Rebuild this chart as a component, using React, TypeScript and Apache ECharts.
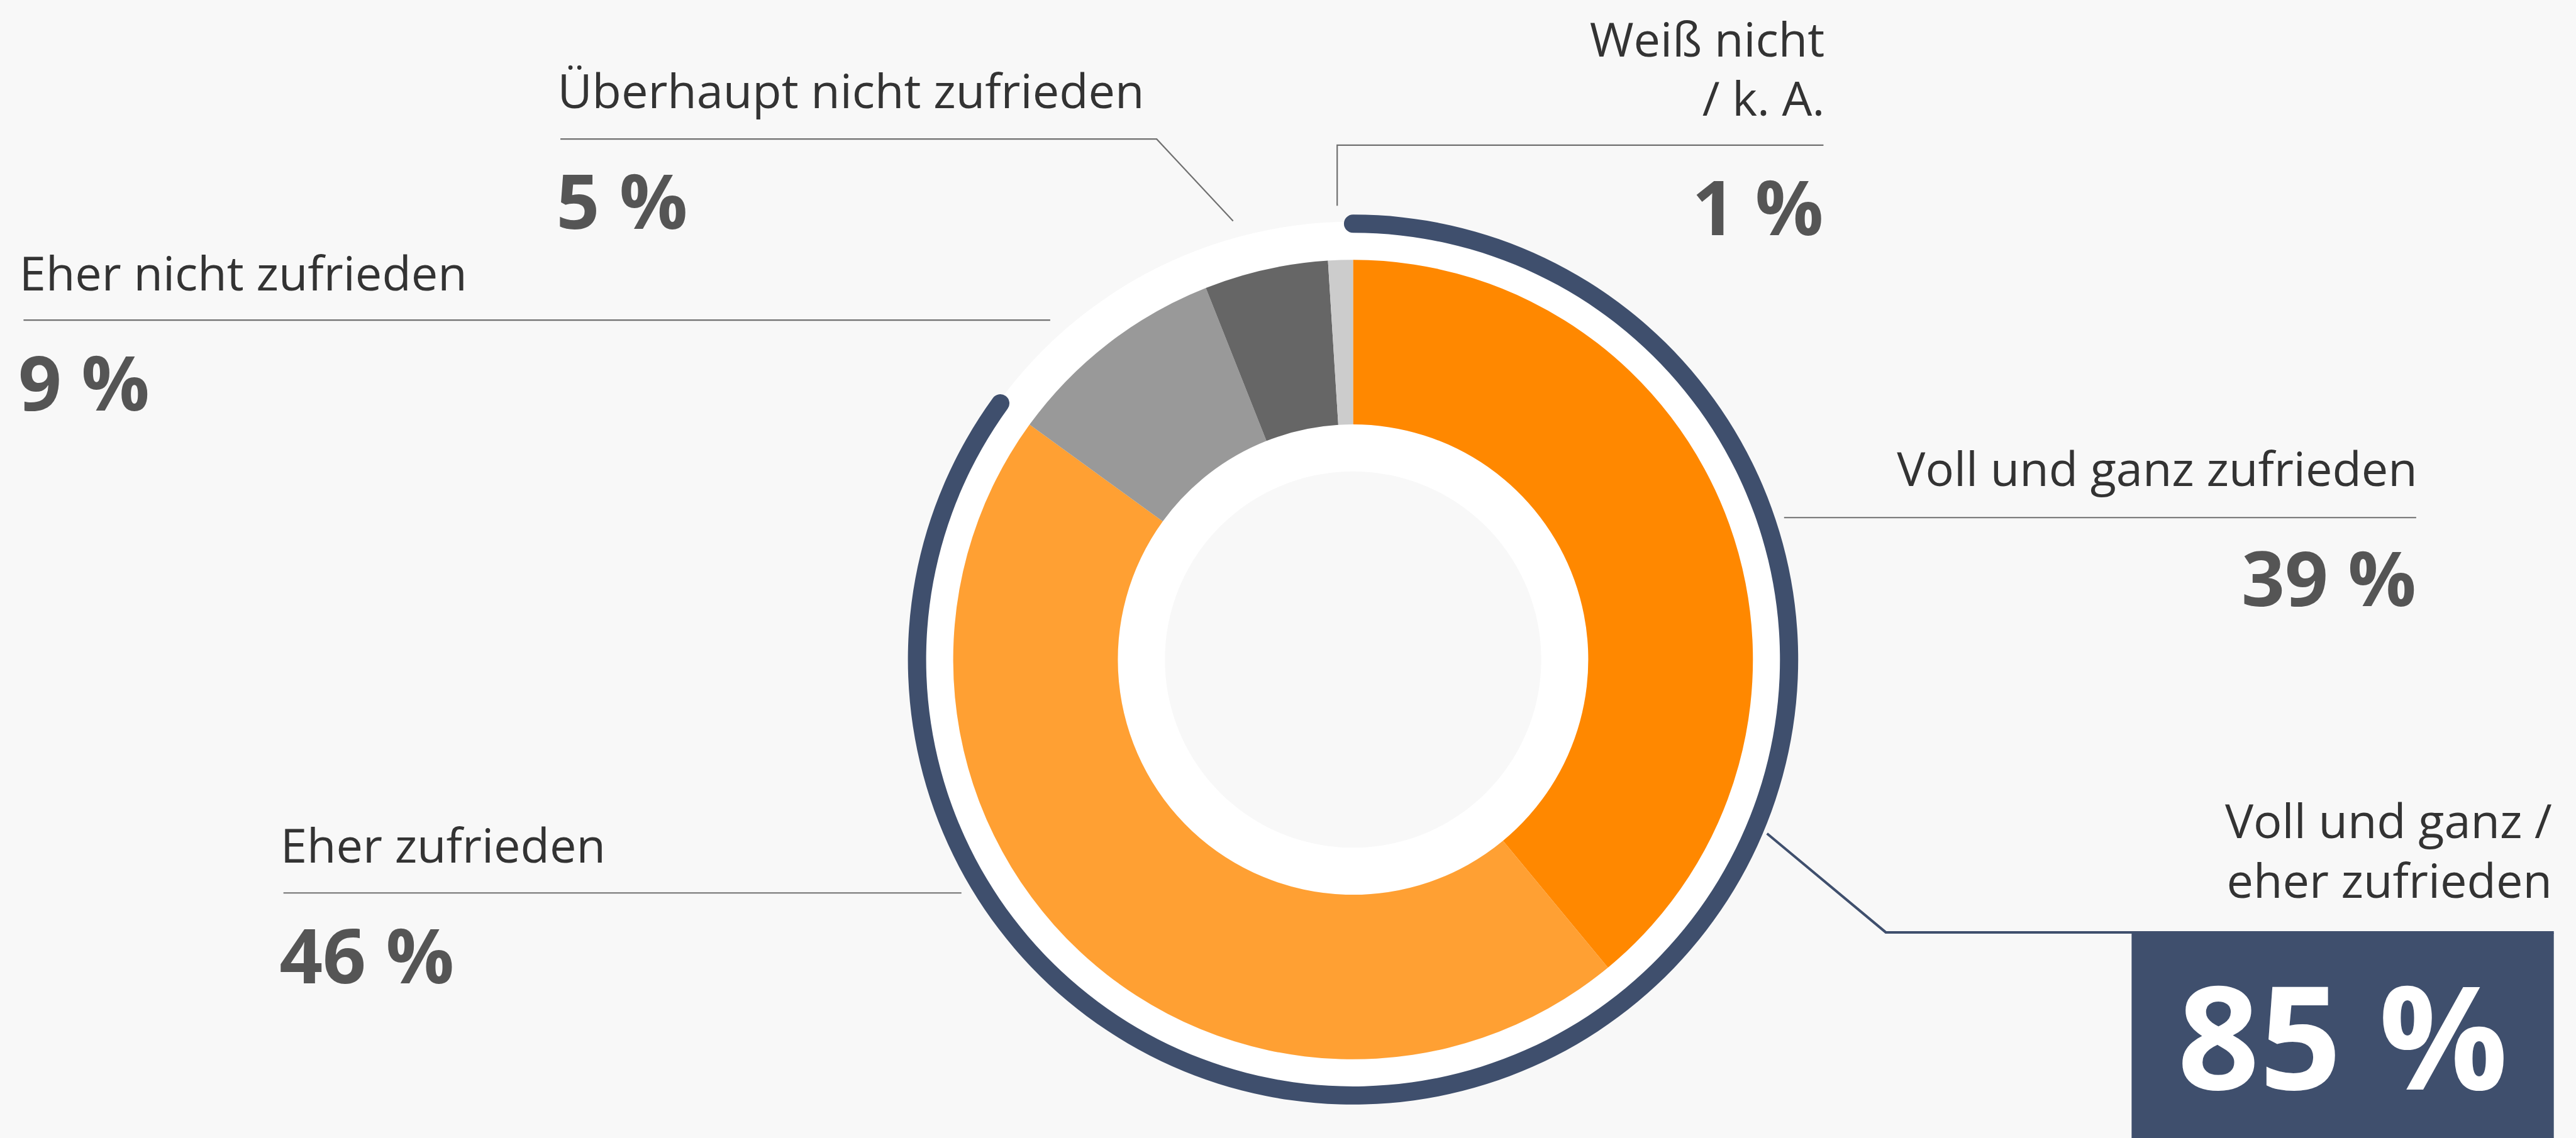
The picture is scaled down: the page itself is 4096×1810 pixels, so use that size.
import React, { useEffect, useRef } from 'react';
import * as echarts from 'echarts';

// ---------- data ----------
const categories = [
  'Voll und ganz zufrieden',
  'Eher zufrieden',
  'Eher nicht zufrieden',
  'Überhaupt nicht zufrieden',
  'Weiß nicht\n/ k. A.',
];
const values = [39, 46, 9, 5, 1];
const summaryLabel = 'Voll und ganz /\neher zufrieden';
const summaryValue = 85;

// ---------- styles / layout ----------
const W = 4096;
const H = 1810;
const S = 0.935;
const BG = '#f8f8f8';
const NAVY = '#3f4f6d';
const LINE_GRAY = '#707070';
const LABEL_COLOR = '#333333';
const PCT_COLOR = '#555555';
const sliceColors = ['#ff8800', '#ffa033', '#999999', '#666666', '#cccccc'];
const FONT = '"Open Sans", "Noto Sans", sans-serif';

const CX = 2301 * S;
const CY = 1122 * S;

const LABEL_FS = 81 * S;
const PCT_FS = 129 * S;
const BIG_FS = 244 * S;
const LABEL_LH = 101 * S;
const CENTRAL = 0.388;

type Lay = {
  align: 'left' | 'right';
  x: number;
  base: number;
  pctBase: number;
  line: number[][];
};

// reference-pixel positions (scaled by S at use)
const layout: Lay[] = [
  { align: 'right', x: 4111, base: 827, pctBase: 1031, line: [[3034, 880.5], [4109, 880.5]] },
  { align: 'left', x: 477, base: 1467, pctBase: 1673, line: [[482, 1519], [1635, 1519]] },
  { align: 'left', x: 33, base: 494, pctBase: 698, line: [[40, 544.5], [1786, 544.5]] },
  { align: 'left', x: 948, base: 184, pctBase: 389, line: [[953, 236.5], [1967, 236.5], [2097, 376]] },
  { align: 'right', x: 3103, base: 96, pctBase: 400, line: [[3101, 247], [2274, 247], [2274, 350]] },
];

function textTop(baseRef: number, fs: number, lh: number) {
  return baseRef * S - CENTRAL * fs - lh / 2;
}

function buildGraphic() {
  const els: any[] = [];
  layout.forEach((l, i) => {
    els.push({
      type: 'text',
      silent: true,
      style: {
        text: categories[i],
        x: l.x * S,
        y: textTop(l.base, LABEL_FS, LABEL_LH),
        fill: LABEL_COLOR,
        font: `400 ${LABEL_FS}px ${FONT}`,
        lineHeight: LABEL_LH,
        textAlign: l.align,
        textVerticalAlign: 'top',
      },
    });
    els.push({
      type: 'text',
      silent: true,
      style: {
        text: `${values[i]} %`,
        x: (l.align === 'left' ? l.x - 2 : l.x - 2) * S,
        y: textTop(l.pctBase, PCT_FS, PCT_FS),
        fill: PCT_COLOR,
        font: `700 ${PCT_FS}px ${FONT}`,
        lineHeight: PCT_FS,
        textAlign: l.align,
        textVerticalAlign: 'top',
      },
    });
    els.push({
      type: 'polyline',
      silent: true,
      shape: { points: l.line.map((p) => [p[0] * S, p[1] * S]) },
      style: { stroke: LINE_GRAY, lineWidth: 2.2, fill: null },
    });
  });

  // summary block
  els.push({
    type: 'rect',
    silent: true,
    shape: { x: 3625 * S, y: 1587 * S, width: (4343 - 3625) * S, height: H - 1587 * S + 5 },
    style: { fill: NAVY },
  });
  els.push({
    type: 'polyline',
    silent: true,
    shape: { points: [[3005 * S, 1418 * S], [3207 * S, 1586 * S], [4343 * S, 1586 * S]] },
    style: { stroke: NAVY, lineWidth: 4, fill: null },
  });
  els.push({
    type: 'text',
    silent: true,
    style: {
      text: summaryLabel,
      x: 4340 * S,
      y: textTop(1426, LABEL_FS, LABEL_LH),
      fill: LABEL_COLOR,
      font: `400 ${LABEL_FS}px ${FONT}`,
      lineHeight: LABEL_LH,
      textAlign: 'right',
      textVerticalAlign: 'top',
    },
  });
  els.push({
    type: 'text',
    silent: true,
    style: {
      text: `${summaryValue} %`,
      x: 3984 * S,
      y: textTop(1854, BIG_FS, BIG_FS),
      fill: '#ffffff',
      font: `700 ${BIG_FS}px ${FONT}`,
      lineHeight: BIG_FS,
      textAlign: 'center',
      textVerticalAlign: 'top',
    },
  });
  return els;
}

const whiteRing = (r0: number, r1: number) => ({
  type: 'pie',
  silent: true,
  center: [CX, CY],
  radius: [r0 * S, r1 * S],
  label: { show: false },
  labelLine: { show: false },
  emphasis: { disabled: true },
  itemStyle: { borderWidth: 0 },
  data: [{ value: 1, itemStyle: { color: '#ffffff' } }],
  z: 1,
});

export default function App() {
  const ref = useRef<HTMLDivElement>(null);
  useEffect(() => {
    if (!ref.current) return;
    const chart = echarts.init(ref.current, null, { renderer: 'svg', width: W, height: H });
    chart.setOption({
      animation: false,
      backgroundColor: BG,
      series: [
        whiteRing(680, 745),
        whiteRing(320, 400),
        {
          type: 'pie',
          silent: true,
          center: [CX, CY],
          radius: [400 * S, 680 * S],
          startAngle: 90,
          clockwise: true,
          label: { show: false },
          labelLine: { show: false },
          emphasis: { disabled: true },
          itemStyle: { borderWidth: 0 },
          data: categories.map((c, i) => ({
            name: c,
            value: values[i],
            itemStyle: { color: sliceColors[i] },
          })),
          z: 2,
        },
        {
          type: 'gauge',
          silent: true,
          center: [CX, CY],
          radius: 757 * S,
          startAngle: 90,
          endAngle: -270,
          clockwise: true,
          min: 0,
          max: 100,
          progress: { show: true, width: 31 * S, roundCap: true, itemStyle: { color: NAVY } },
          axisLine: { show: false },
          axisTick: { show: false },
          splitLine: { show: false },
          axisLabel: { show: false },
          pointer: { show: false },
          anchor: { show: false },
          title: { show: false },
          detail: { show: false },
          data: [{ value: summaryValue }],
          z: 3,
        },
      ],
      graphic: { elements: buildGraphic() },
    });
    return () => chart.dispose();
  }, []);
  return (
    <div
      ref={ref}
      style={{ position: 'fixed', left: 0, top: 0, width: W, height: H, background: BG }}
    />
  );
}
